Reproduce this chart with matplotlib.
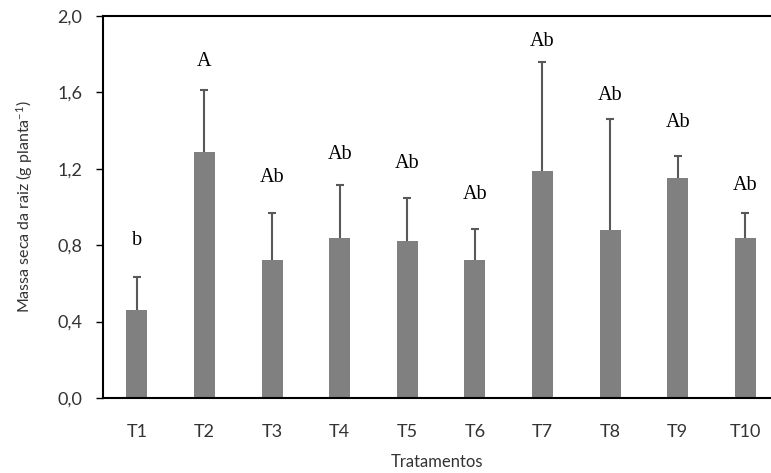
import numpy as np
import matplotlib
matplotlib.use("Agg")
import matplotlib.pyplot as plt

# data
treatments = ["T1", "T2", "T3", "T4", "T5", "T6", "T7", "T8", "T9", "T10"]
means = [0.46, 1.29, 0.72, 0.84, 0.82, 0.72, 1.19, 0.88, 1.15, 0.84]
errors = [0.175, 0.32, 0.25, 0.277, 0.227, 0.166, 0.567, 0.579, 0.115, 0.13]
letters = ["b", "A", "Ab", "Ab", "Ab", "Ab", "Ab", "Ab", "Ab", "Ab"]
letter_y = [0.827, 1.76, 1.157, 1.277, 1.23, 1.063, 1.864, 1.586, 1.44, 1.115]
y_ticks = [0.0, 0.4, 0.8, 1.2, 1.6, 2.0]
y_tick_labels = ["0,0", "0,4", "0,8", "1,2", "1,6", "2,0"]

plt.rcParams['font.family'] = ['Lato', 'DejaVu Sans']
plt.rcParams['mathtext.default'] = 'regular'

fig = plt.figure(figsize=(7.71, 4.73), dpi=100)
ax = fig.add_axes([103 / 771, 1 - 398 / 473, (771 - 103) / 771, (398 - 16) / 473])

x = np.arange(len(treatments))
ax.bar(x, means, width=0.31, color="#808080", zorder=2)
# upper error bars only
_, caps, _ = ax.errorbar(x, means, yerr=[np.zeros(len(errors)), errors], fmt="none",
                         ecolor="#595959", elinewidth=1.5, capsize=3, capthick=1.5, zorder=1)
caps[0].set_visible(False)

for xi, lab, ly in zip(x, letters, letter_y):
    ax.text(xi, ly, lab, ha="center", va="center", fontsize=14.5,
            family="Liberation Serif", color="black")

ax.set_ylim(0, 2.0)
ax.set_xlim(-0.5, 9.38)
ax.set_yticks(y_ticks)
ax.set_yticklabels(y_tick_labels, fontsize=13, color="#333333")
ax.set_xticks(x)
ax.set_xticklabels(treatments, fontsize=13, color="#333333")
ax.tick_params(axis="x", length=0, pad=19)
ax.tick_params(axis="y", length=5, width=1, direction="out", pad=10)

for side in ["left", "bottom", "top"]:
    ax.spines[side].set_linewidth(1.5)
    ax.spines[side].set_color("black")
ax.spines["right"].set_visible(False)

ax.set_ylabel("Massa seca da raiz (g planta$^{-1}$)", fontsize=11.5, color="#333333", labelpad=16)
ax.set_xlabel("Tratamentos", fontsize=12, color="#333333", labelpad=10)

fig.savefig("out.png", dpi=100)
